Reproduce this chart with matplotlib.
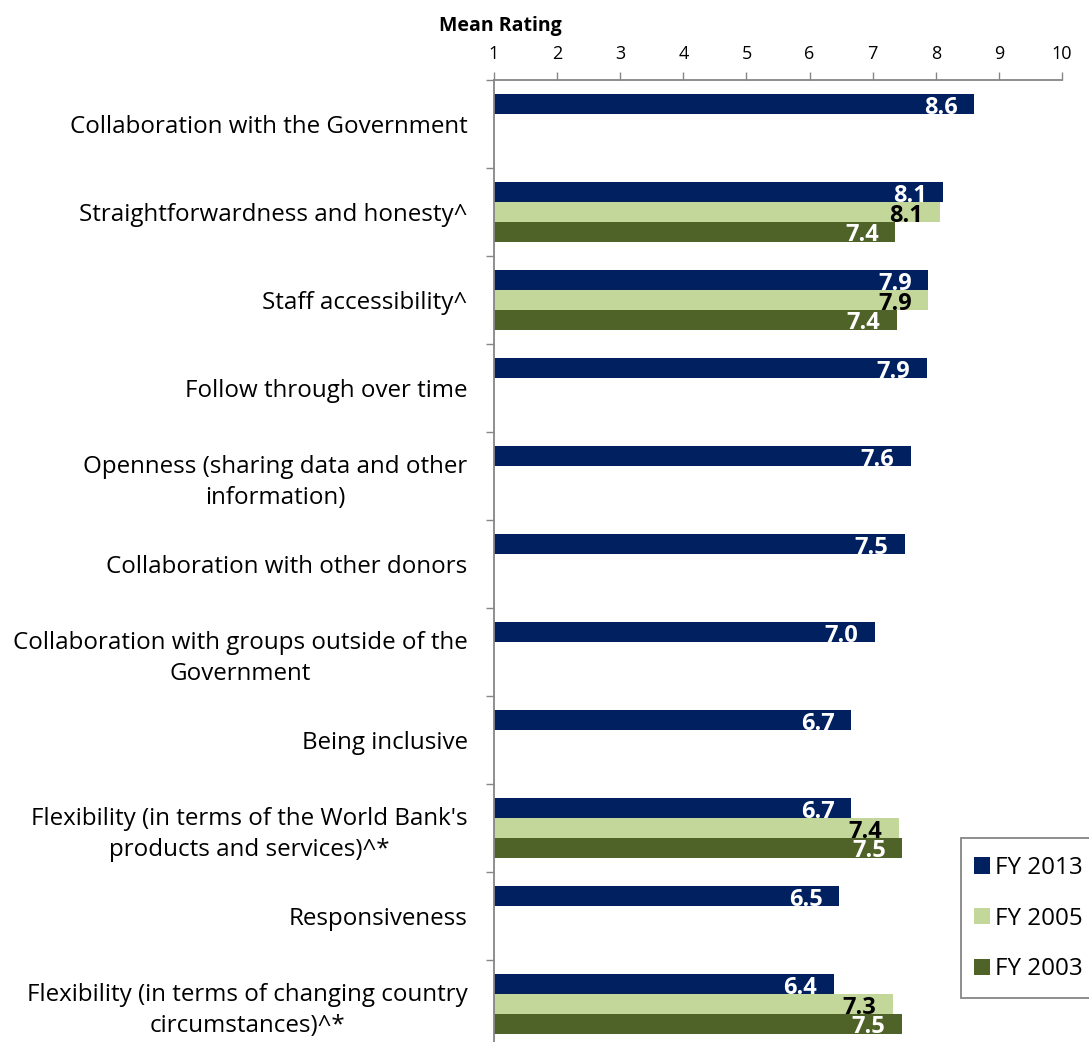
import numpy as np
import matplotlib
matplotlib.use("Agg")
import matplotlib.pyplot as plt
from matplotlib.patches import Rectangle

plt.rcParams["font.family"] = ["Open Sans", "DejaVu Sans"]

CATEGORIES = [
    "Collaboration with the Government",
    "Straightforwardness and honesty^",
    "Staff accessibility^",
    "Follow through over time",
    "Openness (sharing data and other\ninformation)",
    "Collaboration with other donors",
    "Collaboration with groups outside of the\nGovernment",
    "Being inclusive",
    "Flexibility (in terms of the World Bank's\nproducts and services)^*",
    "Responsiveness",
    "Flexibility (in terms of changing country\ncircumstances)^*",
]
NAN = np.nan
FY2013 = [8.61, 8.12, 7.88, 7.86, 7.60, 7.51, 7.03, 6.66, 6.66, 6.47, 6.38]
FY2005 = [NAN, 8.06, 7.88, NAN, NAN, NAN, NAN, NAN, 7.41, NAN, 7.32]
FY2003 = [NAN, 7.36, 7.38, NAN, NAN, NAN, NAN, NAN, 7.47, NAN, 7.46]
SERIES = ["FY 2013", "FY 2005", "FY 2003"]
X_TICKS = [1, 2, 3, 4, 5, 6, 7, 8, 9, 10]

COLORS = ["#002060", "#C4D79B", "#4F6228"]
LABEL_COLORS = ["white", "black", "white"]
AXIS_COL = "#868686"

W, H = 1089, 1042
fig = plt.figure(figsize=(W / 100, H / 100), dpi=100)
# axes placed in pixel terms: x=1 at 494px, x=10 at 1062px, top at 80px, 88px per category
ax = fig.add_axes([494 / W, 1 - 1048 / H, 568 / W, 968 / H])

y = np.arange(len(CATEGORIES))
bh = 0.224
handles = []
for k, (vals, col, lcol) in enumerate(zip([FY2013, FY2005, FY2003], COLORS, LABEL_COLORS)):
    vals = np.array(vals, dtype=float)
    pos = y + (k - 1) * bh
    ok = ~np.isnan(vals)
    b = ax.barh(pos[ok], vals[ok] - 1, left=1, height=bh, color=col, label=SERIES[k], zorder=2)
    handles.append(b)
    for yy, v in zip(pos[ok], vals[ok]):
        ax.annotate(f"{v:.1f}", xy=(v, yy), xytext=(-11.8, -2.6), textcoords="offset points",
                    ha="right", va="center", fontsize=17, fontweight="bold", color=lcol, zorder=5)

ax.set_xlim(1, 10)
ax.set_ylim(len(CATEGORIES) - 0.5, -0.5)
ax.xaxis.tick_top()
ax.set_xticks(X_TICKS)
ax.tick_params(axis="x", direction="out", length=6, width=1, color=AXIS_COL, pad=6.5, labelsize=13)
ax.set_yticks(y)
ax.set_yticklabels(CATEGORIES, fontsize=17.4, ha="right", multialignment="center", linespacing=1.38)
ax.tick_params(axis="y", which="major", length=0, pad=19)
ax.set_yticks(np.arange(-0.5, len(CATEGORIES), 1), minor=True)
ax.tick_params(axis="y", which="minor", direction="out", length=6, width=1, color=AXIS_COL)
for s in ("right", "bottom"):
    ax.spines[s].set_visible(False)
for s in ("top", "left"):
    ax.spines[s].set_color(AXIS_COL)
    ax.spines[s].set_linewidth(1.3)

fig.text(500 / W, 1 - 26 / H, "Mean Rating", ha="center", va="center", fontsize=14, fontweight="bold")

# legend box runs off the right edge like in the source
fig.add_artist(Rectangle((961 / W, 1 - 998 / H), 140 / W, 160 / H, transform=fig.transFigure,
                         facecolor="white", edgecolor=AXIS_COL, linewidth=1.3, clip_on=False))
fig.legend(handles=handles, loc="upper left", bbox_to_anchor=(974 / W, 1 - 856 / H),
           frameon=False, fontsize=17.4, handlelength=0.66, handleheight=0.66,
           handletextpad=0.2, labelspacing=1.1, borderaxespad=0, borderpad=0)

fig.savefig("out.png", dpi=100)
